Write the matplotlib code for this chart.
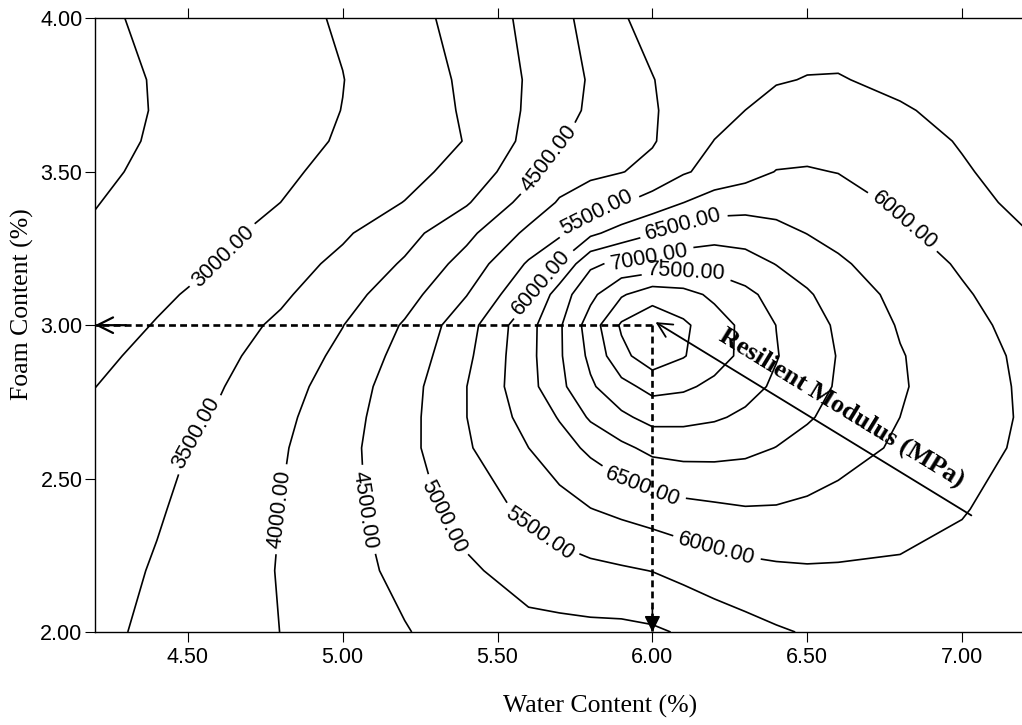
import numpy as np
import matplotlib.pyplot as plt
from matplotlib.ticker import FormatStrFormatter

plt.rcParams['font.family'] = ['Liberation Sans', 'DejaVu Sans']

# grid nodes: water content (%) across, foam content (%) up
water = [4.2, 4.4, 4.6, 4.8, 5.0, 5.2, 5.4, 5.6, 5.7, 5.8, 5.9,
         6.0, 6.1, 6.2, 6.3, 6.4, 6.5, 6.6, 6.8, 7.0, 7.2]
foam = [2.0, 2.2, 2.4, 2.6, 2.7, 2.8, 2.9, 3.0, 3.1, 3.2, 3.3,
        3.4, 3.5, 3.6, 3.7, 3.8, 4.0]

# resilient modulus (MPa), one list per foam content
mr_f200 = [3392, 3596, 3799, 4004, 4238, 4472, 4720, 4853, 4867, 4880, 4880,
           4930, 5049, 5200, 5320, 5445, 5535, 5610, 5700, 5720, 5650]
mr_f220 = [3305, 3543, 3781, 4024, 4323, 4621, 4917, 5216, 5295, 5378, 5441,
           5510, 5636, 5756, 5861, 5919, 5950, 5950, 5940, 5850, 5700]
mr_f240 = [3218, 3456, 3726, 4005, 4357, 4762, 5201, 5617, 5802, 5987, 6112,
           6231, 6344, 6410, 6469, 6463, 6405, 6319, 6167, 6030, 5800]
mr_f260 = [3185, 3380, 3624, 3947, 4351, 4841, 5443, 5998, 6300, 6598, 6887,
           7131, 7187, 7174, 7113, 6990, 6847, 6703, 6427, 6179, 5931]
mr_f270 = [3103, 3316, 3546, 3887, 4303, 4821, 5496, 6178, 6535, 7070, 7400,
           7664, 7639, 7556, 7418, 7232, 7046, 6863, 6499, 6224, 5954]
mr_f280 = [2995, 3234, 3468, 3808, 4227, 4783, 5496, 6324, 6873, 7425, 7852,
           8152, 8080, 7893, 7660, 7425, 7185, 6953, 6545, 6231, 5941]
mr_f290 = [2892, 3138, 3383, 3701, 4115, 4674, 5396, 6347, 6935, 7612, 8357,
           8800, 8530, 8195, 7882, 7525, 7246, 6978, 6529, 6208, 5916]
mr_f300 = [2767, 3029, 3291, 3582, 3990, 4550, 5300, 6333, 6935, 7733, 8570,
           8850, 8584, 8234, 7874, 7494, 7205, 6929, 6458, 6138, 5857]
mr_f310 = [2705, 2911, 3154, 3425, 3803, 4301, 4985, 5918, 6750, 7372, 7943,
           8300, 8177, 7896, 7615, 7334, 7053, 6789, 6362, 6053, 5763]
mr_f320 = [2624, 2814, 3007, 3292, 3615, 4056, 4686, 5560, 6037, 6910, 7120,
           7150, 7300, 7300, 7205, 6985, 6795, 6570, 6244, 5943, 5650]
mr_f330 = [2549, 2728, 2908, 3141, 3433, 3826, 4373, 5111, 5410, 5893, 6210,
           6469, 6690, 6814, 6777, 6649, 6490, 6365, 6078, 5800, 5527]
mr_f340 = [2484, 2656, 2828, 3001, 3254, 3511, 3952, 4687, 5048, 5254, 5461,
           5723, 5995, 6240, 6310, 6310, 6262, 6170, 5935, 5661, 5386]
mr_f350 = [2421, 2589, 2757, 2925, 3123, 3345, 3670, 4344, 4754, 4900, 4985,
           5124, 5451, 5647, 5819, 6015, 6030, 5990, 5752, 5541, 5340]
mr_f360 = [2380, 2542, 2704, 2865, 3039, 3273, 3518, 4128, 4466, 4644, 4804,
           4965, 5223, 5510, 5660, 5790, 5860, 5840, 5660, 5470, 5300]
mr_f370 = [2361, 2522, 2683, 2843, 3006, 3266, 3549, 4066, 4331, 4571, 4767,
           4963, 5145, 5323, 5502, 5640, 5695, 5680, 5535, 5400, 5290]
mr_f380 = [2371, 2526, 2682, 2837, 2992, 3265, 3575, 4048, 4298, 4543, 4767,
           4991, 5104, 5212, 5320, 5470, 5515, 5520, 5420, 5350, 5280]
mr_f400 = [2428, 2577, 2726, 2875, 3045, 3330, 3669, 4113, 4371, 4655, 4975,
           5090, 5130, 5180, 5240, 5290, 5320, 5330, 5300, 5240, 5180]

plain_levels = [2500, 8000, 8500]
label_levels = [3000, 3500, 4000, 4500, 5000, 5500, 6000, 6500, 7000, 7500]
label_spots = [(4.62, 3.22), (4.54, 2.64), (4.80, 2.40), (5.67, 3.54),
               (5.08, 2.40), (5.33, 2.38), (5.82, 3.37), (5.64, 2.33),
               (5.64, 3.14), (6.81, 3.34), (6.21, 2.28), (6.10, 3.33),
               (5.97, 2.48), (5.99, 3.22), (6.11, 3.17)]

opt_water = 6.0
opt_foam = 3.0
arrow_start = (7.03, 2.38)
note_spot = (6.61, 2.73)

Z = np.array([mr_f200, mr_f220, mr_f240, mr_f260, mr_f270, mr_f280,
              mr_f290, mr_f300, mr_f310, mr_f320, mr_f330, mr_f340,
              mr_f350, mr_f360, mr_f370, mr_f380, mr_f400])

fig = plt.figure(figsize=(10.22, 7.25), dpi=100)
ax = fig.add_axes([95 / 1022, 93 / 725, 929 / 1022, 613.6 / 725])

ax.contour(water, foam, Z, levels=plain_levels, colors='black', linewidths=1.2)
cs = ax.contour(water, foam, Z, levels=label_levels, colors='black',
                linewidths=1.2)
ax.clabel(cs, manual=label_spots, fmt='%.2f', fontsize=15.5, inline=True,
          inline_spacing=6)

# optimum read-off lines
dash = (0, (2.6, 1.6))
ax.plot([opt_water, 4.2], [opt_foam, opt_foam], color='black', lw=1.9, ls=dash)
ax.plot([opt_water, opt_water], [opt_foam, 2.0], color='black', lw=1.9, ls=dash)
ax.annotate('', xy=(4.2, opt_foam), xytext=(4.3, opt_foam),
            arrowprops=dict(arrowstyle='->', color='black', lw=1.6,
                            mutation_scale=28, shrinkA=0, shrinkB=0))
ax.annotate('', xy=(opt_water, 2.0), xytext=(opt_water, 2.08),
            arrowprops=dict(arrowstyle='-|>', color='black', lw=1.2,
                            mutation_scale=24, shrinkA=0, shrinkB=0))

ax.annotate('', xy=(opt_water + 0.01, opt_foam + 0.01), xytext=arrow_start,
            arrowprops=dict(arrowstyle='->', color='black', lw=1.3,
                            mutation_scale=26, shrinkA=0, shrinkB=0))
ax.text(note_spot[0], note_spot[1], 'Resilient Modulus (MPa)', rotation=-31.5,
        rotation_mode='anchor', ha='center', va='center',
        family=['Liberation Serif'], weight='bold', fontsize=19)

ax.set_xlim(4.2, 7.2)
ax.set_ylim(2.0, 4.0)
ax.set_xticks([4.5, 5.0, 5.5, 6.0, 6.5, 7.0])
ax.set_yticks([2.0, 2.5, 3.0, 3.5, 4.0])
ax.xaxis.set_major_formatter(FormatStrFormatter('%.2f'))
ax.yaxis.set_major_formatter(FormatStrFormatter('%.2f'))
ax.tick_params(direction='out', length=7, width=0.8, top=True,
               labelsize=15.5, colors='black')
ax.tick_params(axis='x', pad=4)
ax.tick_params(axis='y', pad=2)
for s in ax.spines.values():
    s.set_linewidth(1.0)

ax.set_xlabel('Water Content (%)', family=['Liberation Serif'], fontsize=18.5,
              va='center')
ax.xaxis.set_label_coords(0.5436, -0.122)
ax.set_ylabel('Foam Content (%)', family=['Liberation Serif'], fontsize=18.5,
              va='center')
ax.yaxis.set_label_coords(-0.0786, 0.5346)

fig.savefig('out.png', dpi=100)
